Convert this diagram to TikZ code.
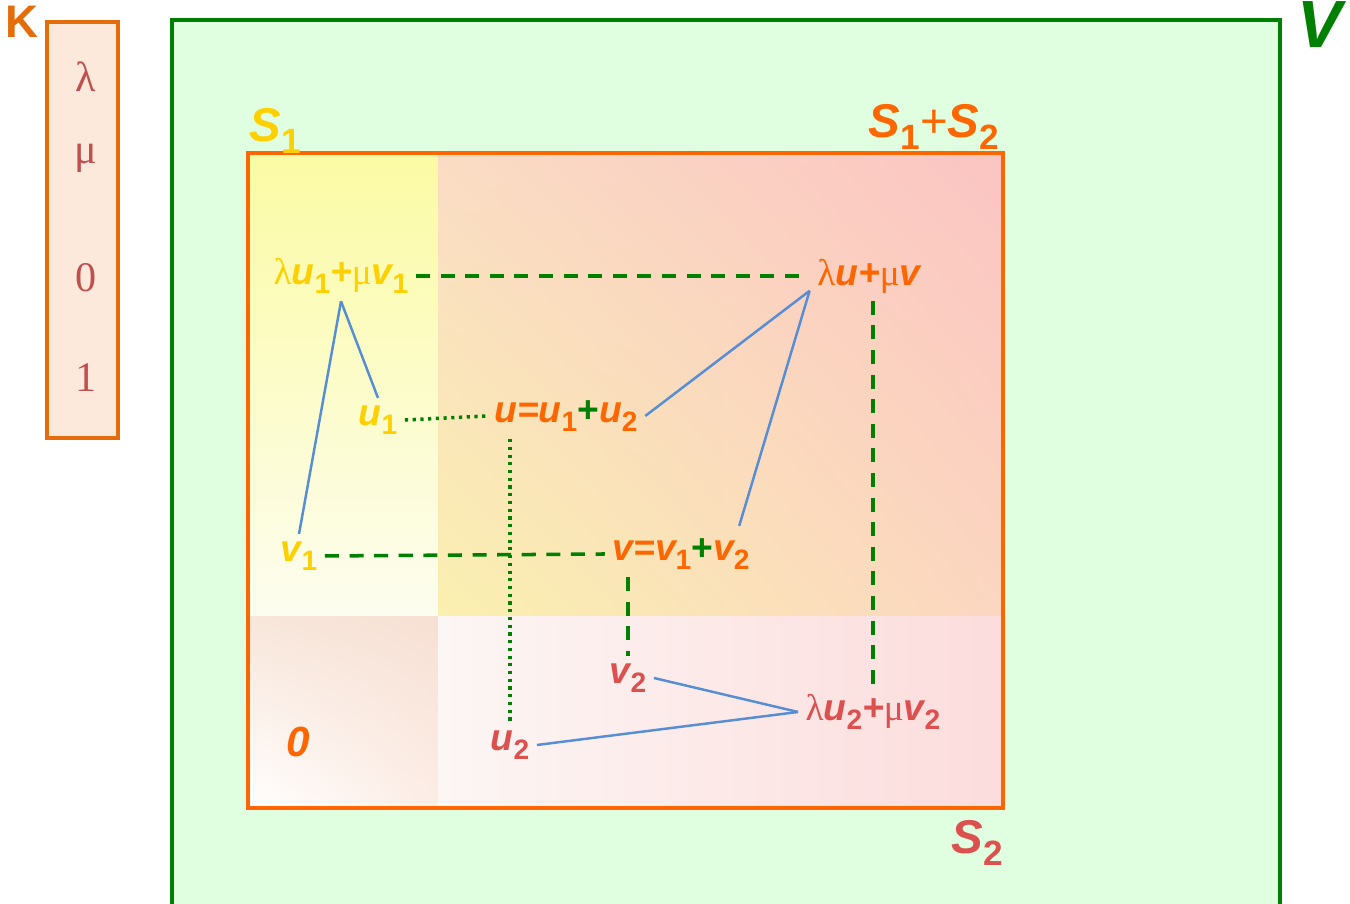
\documentclass[tikz,border=0pt]{standalone}
\usepackage{fontspec}
\setmainfont{Liberation Serif}
\setsansfont{Liberation Sans}
\usepackage{tikz}
\usetikzlibrary{positioning, shadings, calc}
\definecolor{myorange}{RGB}{255,102,0}
\definecolor{kor}{RGB}{228,108,10}
\definecolor{mygold}{RGB}{255,208,0}
\definecolor{myrose}{RGB}{221,80,80}
\definecolor{mygreen}{RGB}{0,128,0}
\definecolor{myblue}{RGB}{85,142,213}
\definecolor{bgV}{RGB}{224,255,224}
\definecolor{bgK}{RGB}{252,233,220}
\definecolor{scal}{RGB}{192,80,77}
% fills of the subspaces
\definecolor{yeltop}{RGB}{251,251,164}
\definecolor{yelbot}{RGB}{253,253,240}
\definecolor{sumUL}{RGB}{250,220,196}
\definecolor{sumUR}{RGB}{251,196,194}
\definecolor{sumLL}{RGB}{250,240,176}
\definecolor{sumLR}{RGB}{251,214,192}
\definecolor{zeroUL}{RGB}{248,230,218}
\definecolor{zeroUR}{RGB}{247,224,212}
\definecolor{zeroLL}{RGB}{255,255,255}
\definecolor{zeroLR}{RGB}{252,237,229}
\definecolor{twoL}{RGB}{252,246,244}
\definecolor{twoR}{RGB}{252,220,220}
\newcommand{\ix}[1]{\raisebox{-0.45ex}{\upshape\fontsize{8}{8}\selectfont #1}}
\newcommand{\iX}[1]{\raisebox{-0.45ex}{\upshape\fontsize{10}{10}\selectfont #1}}
\newcommand{\gr}[1]{{\rmfamily\mdseries\upshape #1}}
\newcommand{\gplus}{{\color{mygreen}\upshape+}}
\tikzset{
  vec/.style={font=\sffamily\bfseries\itshape\fontsize{10.6}{13}\selectfont, inner sep=2pt},
  inS1/.style={vec, text=mygold},
  inSum/.style={vec, text=myorange},
  inS2/.style={vec, text=myrose},
  setlabel/.style={font=\sffamily\bfseries\itshape\fontsize{13.5}{16}\selectfont, anchor=base},
  scalar/.style={font=\rmfamily\fontsize{12}{14}\selectfont, text=scal},
  link/.style={myblue, line width=0.7pt},
  dashlink/.style={mygreen, line width=1pt, dash pattern=on 4pt off 3pt},
  dotlink/.style={mygreen, line width=1pt, dash pattern=on 0.9pt off 1.3pt}
}
\begin{document}
\begin{tikzpicture}
  \clip (0,0) rectangle (13.5,9.04);

  % field K
  \node[font=\sffamily\bfseries\fontsize{13}{15}\selectfont, text=kor, anchor=base] (K) at (0.22,8.66) {K};
  \draw[kor, fill=bgK, line width=1pt] (0.47,4.66) rectangle (1.18,8.82);
  \foreach \s/\y [count=\i] in {λ/8.27, μ/7.46, 0/6.26, 1/5.26}
    \node[scalar] (k\i) at (0.86,\y) {\s};

  % vector space V
  \draw[mygreen, fill=bgV, line width=1pt] (1.72,-0.2) rectangle (12.80,8.84);
  \node[setlabel, text=mygreen, font=\sffamily\bfseries\itshape\fontsize{19}{21}\selectfont] (V) at (13.20,8.56) {V};

  % subspaces S1, S2 and S1+S2
  \shade[top color=yeltop, bottom color=yelbot] (2.48,2.87) rectangle (4.38,7.51);
  \shade[upper left=sumUL, upper right=sumUR, lower left=sumLL, lower right=sumLR] (4.38,2.87) rectangle (10.03,7.51);
  \shade[upper left=zeroUL, upper right=zeroUR, lower left=zeroLL, lower right=zeroLR] (2.48,0.96) rectangle (4.38,2.87);
  \shade[left color=twoL, right color=twoR] (4.38,0.96) rectangle (10.03,2.87);
  \draw[myorange, line width=1pt] (2.48,0.96) rectangle (10.03,7.51);

  \node[setlabel, text=mygold] (S1) at (2.75,7.62) {S\iX{1}};
  \node[setlabel, text=myorange] (S12) at (9.34,7.66) {S\iX{1}{\mdseries\upshape+}S\iX{2}};
  \node[setlabel, text=myrose] (S2) at (9.77,0.50) {S\iX{2}};
  \node[setlabel, text=myorange, font=\sffamily\bfseries\itshape\fontsize{12}{14}\selectfont, anchor=center] (zero) at (2.98,1.62) {0};

  % vectors
  \node[inS1] (lam1) at (3.41,6.28) {\gr{λ}u\ix{1}+\gr{μ}v\ix{1}};
  \node[inS1] (u1) at (3.78,4.84) {u\ix{1}};
  \node[inS1] (v1) at (2.99,3.48) {v\ix{1}};
  \node[inSum] (u) at (5.66,4.88) {u=u\ix{1}\gplus u\ix{2}};
  \node[inSum] (v) at (6.81,3.50) {v=v\ix{1}\gplus v\ix{2}};
  \node[inSum] (lam) at (8.69,6.28) {\gr{λ}u+\gr{μ}v};
  \node[inS2] (v2) at (6.28,2.26) {v\ix{2}};
  \node[inS2] (u2) at (5.10,1.59) {u\ix{2}};
  \node[inS2] (lam2) at (8.73,1.92) {\gr{λ}u\ix{2}+\gr{μ}v\ix{2}};

  % sums
  \draw[dashlink] (lam1.east) -- (lam.west);
  \draw[dashlink] (v1.east) -- (v.west);
  \draw[dashlink] (v2 |- v.south) -- (v2.north);
  \draw[dashlink] (lam2 |- lam.south) -- (lam2.north);
  \draw[dotlink] (u1.east) -- (u.west);
  \draw[dotlink] (u2 |- u.south) -- (u2.north);

  % linear combinations
  \draw[link] (lam1.south) -- (v1.north);
  \draw[link] (lam1.south) -- (u1.north);
  \draw[link] ($(lam.south west)+(0,0.1)$) -- (u.east);
  \draw[link] ($(lam.south west)+(0,0.1)$) -- ($(v.north east)+(-0.18,0.05)$);
  \draw[link] (v2.east) -- (lam2.west);
  \draw[link] (u2.east) -- (lam2.west);
\end{tikzpicture}
\end{document}
